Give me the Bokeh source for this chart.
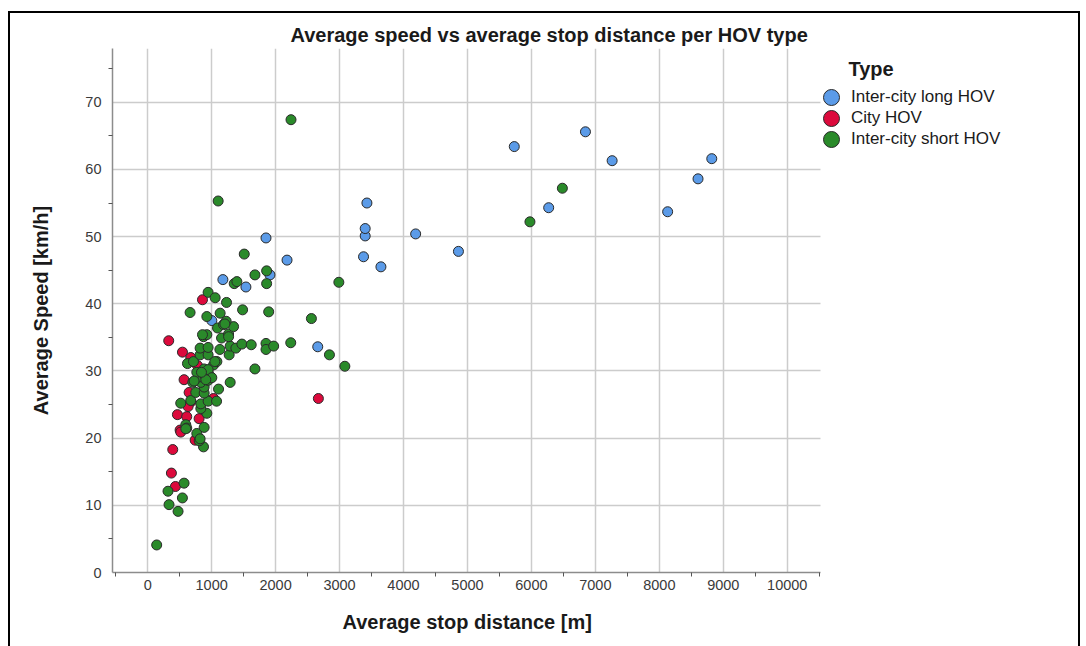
from bokeh.plotting import figure
from bokeh.models import Range1d, FixedTicker, Legend, LegendItem, Label, Title
from bokeh.embed import file_html
from bokeh.resources import INLINE

# ---- data ----
long_x = [1176, 1536, 1850, 1912, 1003, 2179, 2659, 3375, 3401, 3401, 3428, 3647,
          4190, 4859, 5732, 6270, 6845, 7262, 8130, 8605, 8820]
long_y = [43.6, 42.5, 49.8, 44.3, 37.5, 46.5, 33.6, 47.0, 50.1, 51.2, 55.0, 45.5,
          50.4, 47.8, 63.4, 54.3, 65.6, 61.3, 53.7, 58.6, 61.6]

city_x = [857, 329, 544, 674, 779, 569, 648, 1030, 674, 632, 465, 611, 804, 507,
          517, 742, 392, 371, 434, 2669]
city_y = [40.6, 34.5, 32.8, 32.0, 30.8, 28.7, 26.8, 25.9, 25.4, 24.7, 23.5, 23.2,
          22.9, 21.2, 20.9, 19.7, 18.3, 14.8, 12.8, 25.9]

short_x = [141, 475, 334, 543, 318, 569, 873, 805, 768, 883, 596, 611, 925, 831,
           831, 945, 1077, 674, 517, 752, 883, 883, 1108, 705, 831, 945, 1290, 804,
           898, 987, 768, 857, 945, 1677, 622, 716, 1030, 1082, 3083, 820, 945, 1274,
           2842, 820, 945, 1129, 1290, 1379, 1473, 1619, 1850, 1850, 1970, 2237, 873,
           925, 1155, 1265, 1092, 1343, 1186, 1227, 2560, 663, 925, 1133, 1484, 1892,
           945, 1055, 1233, 1353, 1395, 1510, 1677, 1860, 1860, 2989, 1102, 2241,
           5977, 6484, 883, 945, 1003, 909, 726, 841, 1050, 1207, 857, 1265, 820, 596]
short_y = [4.1, 9.1, 10.1, 11.1, 12.1, 13.3, 18.7, 19.6, 20.7, 21.6, 22.0, 21.5, 23.7,
           24.4, 25.1, 25.5, 25.5, 25.6, 25.2, 26.8, 26.7, 27.6, 27.3, 28.3, 28.3, 28.6,
           28.3, 29.1, 29.3, 29.1, 29.8, 29.8, 29.8, 30.3, 31.1, 31.4, 30.9, 31.4, 30.7,
           32.4, 32.4, 32.4, 32.4, 33.4, 33.5, 33.2, 33.7, 33.4, 34.0, 33.9, 34.1, 33.2,
           33.7, 34.2, 35.1, 35.4, 34.9, 35.5, 36.4, 36.6, 36.9, 37.4, 37.8, 38.7, 38.1,
           38.6, 39.1, 38.8, 41.7, 40.9, 40.2, 43.0, 43.3, 47.4, 44.3, 44.9, 43.0, 43.2,
           55.3, 67.4, 52.2, 57.2, 30.3, 30.2, 29.0, 28.7, 28.5, 29.8, 31.4, 37.0, 35.4,
           35.1, 19.9, 21.4]

type_labels = ["Inter-city long HOV", "City HOV", "Inter-city short HOV"]
type_colors = ["#5B9BE8", "#DC0A3C", "#2A8A2A"]

x_major = [0, 1000, 2000, 3000, 4000, 5000, 6000, 7000, 8000, 9000, 10000]
x_minor = [-500, 500, 1500, 2500, 3500, 4500, 5500, 6500, 7500, 8500, 9500, 10500]
y_major = [0, 10, 20, 30, 40, 50, 60, 70]
y_minor = [5, 15, 25, 35, 45, 55, 65, 75]

FONT = "Liberation Sans"

# axis extent (data units) and layout sizes
X_START, X_AXIS_END = -550, 10520
Y_START, Y_END = 0, 78
DATA_PX = 708          # width of the axis area
FRAME_W = 940          # frame also holds the legend to the right of the axis
FRAME_H = 524
x_end = X_START + (X_AXIS_END - X_START) * FRAME_W / DATA_PX

p = figure(frame_width=FRAME_W, frame_height=FRAME_H, output_backend="svg",
           toolbar_location=None,
           x_range=Range1d(X_START, x_end), y_range=Range1d(Y_START, Y_END),
           min_border_left=102, min_border_right=26, min_border_top=35,
           min_border_bottom=71,
           styles={"margin-left": "8px", "margin-top": "11px",
                   "border-left": "2px solid black", "border-top": "2px solid black",
                   "border-right": "2px solid black"})
p.outline_line_color = None
p.background_fill_color = "white"
p.border_fill_color = "white"

p.title.text = "Average speed vs average stop distance per HOV type"
p.title.text_font = FONT
p.title.text_font_size = "20px"
p.title.text_font_style = "bold"
p.title.text_color = "#1a1a1a"
p.title.align = "left"
p.title.offset = 178
p.title.standoff = 6

p.xaxis.ticker = FixedTicker(ticks=x_major, minor_ticks=x_minor)
p.yaxis.ticker = FixedTicker(ticks=y_major, minor_ticks=y_minor)
p.xaxis.bounds = (X_START, X_AXIS_END)
for ax in (p.xaxis, p.yaxis):
    ax.axis_line_color = "#8c8c8c"
    ax.axis_line_width = 1.5
    ax.major_tick_out = 0
    ax.major_tick_in = 0
    ax.minor_tick_out = 4
    ax.minor_tick_in = 0
    ax.minor_tick_line_color = "#555555"
    ax.major_label_text_font = FONT
    ax.major_label_text_font_size = "14.5px"
    ax.major_label_text_color = "#3a3a3a"
    ax.axis_label_text_font = FONT
    ax.axis_label_text_font_size = "20px"
    ax.axis_label_text_font_style = "bold"
    ax.axis_label_text_color = "#1a1a1a"
p.yaxis.axis_label = "Average Speed [km/h]"
p.xaxis.major_label_standoff = 3
p.yaxis.major_label_standoff = 7
p.yaxis.axis_label_standoff = 30

# x-axis title centred under the axis itself (the frame also holds the legend)
p.add_layout(Title(text="Average stop distance [m]", align="left", offset=230,
                   standoff=32, text_font=FONT, text_font_size="20px",
                   text_font_style="bold", text_color="#1a1a1a"), "below")

for g in (p.xgrid, p.ygrid):
    g.grid_line_color = "#cccccc"
    g.grid_line_width = 1.5
p.xgrid.ticker = FixedTicker(ticks=x_major)
p.ygrid.ticker = FixedTicker(ticks=y_major)
p.ygrid.cross_bounds = (X_START, X_AXIS_END)

r_long = p.scatter(long_x, long_y, size=10, fill_color=type_colors[0],
                   line_color="#2a2a2a", line_width=1)
r_city = p.scatter(city_x, city_y, size=10, fill_color=type_colors[1],
                   line_color="#2a2a2a", line_width=1)
r_short = p.scatter(short_x, short_y, size=10, fill_color=type_colors[2],
                    line_color="#2a2a2a", line_width=1)

# one legend per entry so the rows can sit closer than the glyph box height
for label, rend, ly in zip(type_labels, [r_long, r_city, r_short], [455, 434, 413]):
    lg = Legend(items=[LegendItem(label=label, renderers=[rend])],
                location=(699, ly), glyph_width=40, glyph_height=40,
                label_standoff=-4, padding=0, margin=0, border_line_alpha=0,
                background_fill_alpha=0, label_text_font=FONT,
                label_text_font_size="17px", label_text_color="#1a1a1a")
    p.add_layout(lg, "center")

p.add_layout(Label(x=736, y=504, x_units="screen", y_units="screen", text="Type",
                   text_font=FONT, text_font_size="20px", text_font_style="bold",
                   text_color="#1a1a1a", text_baseline="middle"))

open("out.html", "w").write(file_html(p, INLINE))
